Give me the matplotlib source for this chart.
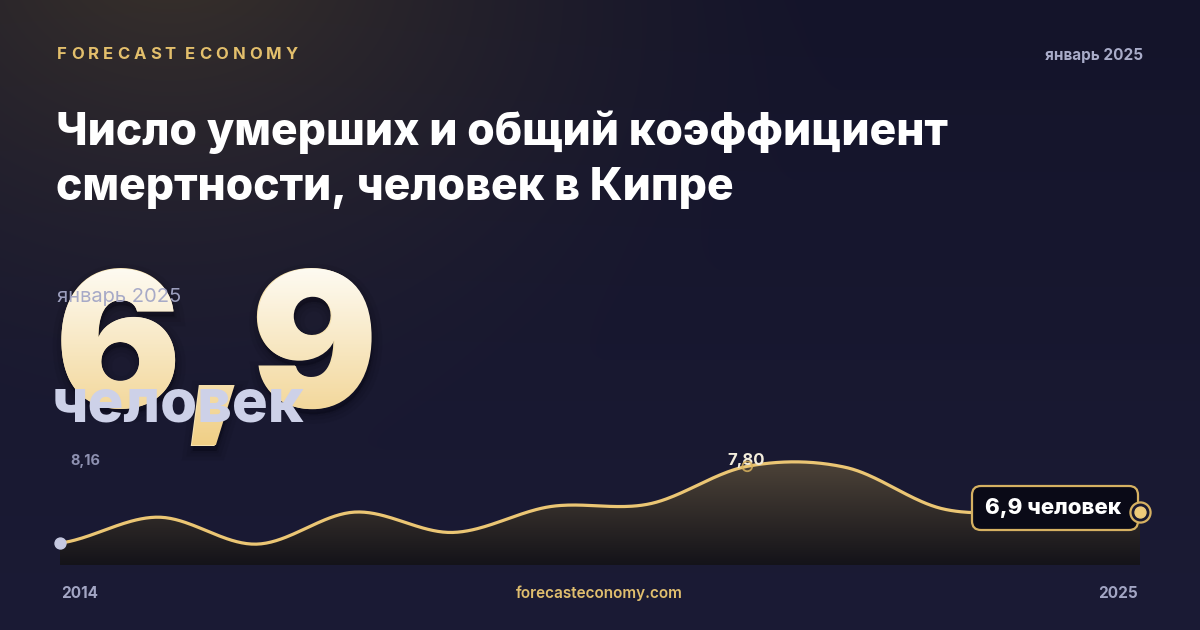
import numpy as np
import matplotlib
matplotlib.use("Agg")
import matplotlib.pyplot as plt
from matplotlib.colors import to_rgb
from matplotlib.patches import Polygon, FancyBboxPatch, PathPatch
from matplotlib.textpath import TextPath
from matplotlib.font_manager import FontProperties
from matplotlib.transforms import Affine2D

# --- DATA ---
years = [2014, 2015, 2016, 2017, 2018, 2019, 2020, 2021, 2022, 2023, 2024, 2025]
death_rate = [6.29, 6.80, 6.27, 6.90, 6.50, 7.01, 7.06, 7.80, 7.78, 6.96, 6.92, 6.90]
axis_min, axis_max = 5.94, 8.16
current_value = 6.9
brand = "FORECAST ECONOMY"
period = "январь 2025"
title_lines = ["Число умерших и общий коэффициент", "смертности, человек в Кипре"]
unit = "человек"
site = "forecasteconomy.com"

# --- STYLE ---
W, H = 1200, 630
FONT = ["Inter", "DejaVu Sans"]
GOLD = "#ebc674"
LAVENDER = "#cdd1e8"
plt.rcParams["font.family"] = FONT


def fmt(v, nd=2):
    return f"{v:.{nd}f}".replace(".", ",")


def cardinal(xs, ys, n=40):
    # catmull-rom curve through the points (like d3 curveCardinal)
    xs = np.asarray(xs, float)
    ys = np.asarray(ys, float)
    py = np.concatenate([[ys[0]], ys, [ys[-1]]])
    t = np.linspace(0, 1, n, endpoint=False)
    h00 = 2 * t**3 - 3 * t**2 + 1
    h10 = t**3 - 2 * t**2 + t
    h01 = -2 * t**3 + 3 * t**2
    h11 = t**3 - t**2
    out_x, out_y = [], []
    for i in range(len(xs) - 1):
        j = i + 1
        m1 = (py[j + 1] - py[j - 1]) / 2
        m2 = (py[j + 2] - py[j]) / 2
        out_y.append(h00 * py[j] + h10 * m1 + h01 * py[j + 1] + h11 * m2)
        out_x.append(xs[i] + t * (xs[i + 1] - xs[i]))
    out_x.append([xs[-1]])
    out_y.append([ys[-1]])
    return np.concatenate(out_x), np.concatenate(out_y)


fig = plt.figure(figsize=(W / 100, H / 100), dpi=100)
ax0 = fig.add_axes([0, 0, 1, 1])
ax0.set_xlim(0, W)
ax0.set_ylim(H, 0)
ax0.axis("off")

# background: navy with a warm glow top-left
yy, xx = np.mgrid[0:H, 0:W]
c_top = np.array(to_rgb("#14142a"))
c_bot = np.array(to_rgb("#1b1b35"))
bg = c_top + (c_bot - c_top) * (yy / H)[..., None]
d = np.hypot(xx - 170, (yy + 60) * 1.3) / 700
glow = np.clip(1 - d, 0, 1) ** 1.6
warm = np.array(to_rgb("#3b332b"))
bg = bg + (warm - c_top) * glow[..., None]
ax0.imshow(np.clip(bg, 0, 1), extent=(0, W, H, 0), aspect="auto", zorder=0)

# header, letter-spaced by hand
renderer = fig.canvas.get_renderer()
letters = []
for ch in brand:
    if ch == " ":
        letters.append(None)
        continue
    letters.append(ax0.text(0, 59, ch, color="#e3bf6c", fontsize=12, fontweight="bold",
                            ha="left", va="baseline", zorder=5))
widths = [t.get_window_extent(renderer).width if t else 0 for t in letters]
space_k = 2.3
gap = (245 - sum(widths)) / (len(brand) - 1 + space_k - 1)
x = 57
for t, w in zip(letters, widths):
    if t is None:
        x += gap * (space_k - 1)
        continue
    t.set_x(x)
    x += w + gap

ax0.text(1143, 60, period, color="#a9acc9", fontsize=11, fontweight="bold",
         ha="right", va="baseline", zorder=5)

ax0.text(56, 145, title_lines[0], color="white", fontsize=32, fontweight="heavy",
         ha="left", va="baseline", zorder=5)
ax0.text(56, 200, title_lines[1], color="white", fontsize=32, fontweight="heavy",
         ha="left", va="baseline", zorder=5)

# big number: real text with a vertical gradient laid over its outline
big_txt = fmt(current_value, 1)
big_pt = 135
bx, by = 55, 407
ax0.text(bx, by, big_txt, color="#f6e2b0", fontsize=big_pt, fontweight="black",
         ha="left", va="baseline", zorder=4)
fp = FontProperties(family=FONT, weight="black")
tp = TextPath((0, 0), big_txt, size=big_pt * 100 / 72, prop=fp)
tp = Affine2D().scale(1, -1).translate(bx, by).transform_path(tp)
for lw, a in [(14, 0.06), (8, 0.08), (3, 0.1)]:
    shadow = PathPatch(Affine2D().translate(1, 5).transform_path(tp), fc="#05050b",
                       ec="#05050b", lw=lw, alpha=a, zorder=3)
    ax0.add_patch(shadow)
clip = PathPatch(tp, fc="none", ec="none", transform=ax0.transData)
ax0.add_patch(clip)
g = np.linspace(0, 1, 256)[:, None, None]
g1 = np.array(to_rgb("#fffefa"))
g2 = np.array(to_rgb("#f0cf86"))
ax0.imshow(g1 + (g2 - g1) * g, extent=(40, 420, 445, 255), aspect="auto",
           clip_path=clip, zorder=4.5)
ax0.set_xlim(0, W)
ax0.set_ylim(H, 0)

ax0.text(57, 302, period, color="#a3a6c6", fontsize=14.5, ha="left", va="baseline",
         alpha=0.95, zorder=6)
ax0.text(52, 422, unit, color=LAVENDER, fontsize=43, fontweight="heavy",
         ha="left", va="baseline", zorder=6)

# --- line chart ---
lo = axis_min - 0.08
ax = fig.add_axes([60 / W, 1 - 565 / H, 1080 / W, (565 - 448) / H])
ax.patch.set_alpha(0)
ax.axis("off")

sx, sy = cardinal(years, death_rate)
poly = np.column_stack([np.r_[sx, sx[-1], sx[0]], np.r_[sy, lo, lo]])
fill = Polygon(poly, closed=True, fc="none", ec="none")
ax.add_patch(fill)
f_top = np.array(to_rgb("#54493c"))
f_bot = np.array(to_rgb("#141319"))
ax.imshow(f_top + (f_bot - f_top) * g, extent=(years[0], years[-1], lo, axis_max),
          aspect="auto", origin="upper", clip_path=fill, zorder=1)
ax.plot(sx, sy, color=GOLD, lw=2.3, solid_capstyle="round", zorder=3)
ax.set_xlim(years[0], years[-1])
ax.set_ylim(lo, axis_max)

ax.scatter([years[0]], [death_rate[0]], s=62, color="#c6c9e1", zorder=6, clip_on=False)

i_max = int(np.argmax(death_rate))
ax.annotate(fmt(death_rate[i_max]), (years[i_max], death_rate[i_max]), xytext=(-0.5, 4),
            textcoords="offset points", ha="center", va="center", fontsize=12,
            fontweight="bold", color="#f3eddc", zorder=5, annotation_clip=False)
ax.scatter([years[i_max]], [death_rate[i_max]], s=50, fc="none", ec="#d9b25e", lw=1.3,
           alpha=0.85, zorder=6, clip_on=False)

# end label (pixel placement, drawn on the chart axes so it sits above the fill)
box = FancyBboxPatch((972, 486), 166, 44, boxstyle="round,pad=0,rounding_size=9",
                     fc="#0a0a17", ec="#d6b162", lw=1.6, zorder=7,
                     transform=ax0.transData, clip_on=False)
ax.add_patch(box)
ax.text(985, 508, f"{fmt(current_value, 1)} {unit}", color="white", fontsize=16,
        fontweight="heavy", ha="left", va="center", zorder=8,
        transform=ax0.transData, clip_on=False)
ax.scatter([years[-1]], [death_rate[-1]], s=210, fc="#1a1930", ec="#d6b162", lw=1.6,
           zorder=9, clip_on=False)
ax.scatter([years[-1]], [death_rate[-1]], s=62, color="#efcb7a", zorder=10, clip_on=False)

# scale labels
ax0.text(70, 461, fmt(axis_max), color="#8e91b1", fontsize=10.5, fontweight="bold",
         ha="left", va="center", zorder=5)
ax0.text(70, 547, fmt(axis_min), color="#8e91b1", fontsize=10.5, fontweight="bold",
         ha="left", va="center", zorder=5)

# footer
ax0.text(61, 598, str(years[0]), color="#a3a6c4", fontsize=11, fontweight="bold",
         ha="left", va="baseline", zorder=5)
ax0.text(599, 598, site, color="#e0be6e", fontsize=11, fontweight="semibold",
         ha="center", va="baseline", zorder=5)
ax0.text(1138, 598, str(years[-1]), color="#a3a6c4", fontsize=11, fontweight="bold",
         ha="right", va="baseline", zorder=5)

fig.savefig("out.png", dpi=100)
